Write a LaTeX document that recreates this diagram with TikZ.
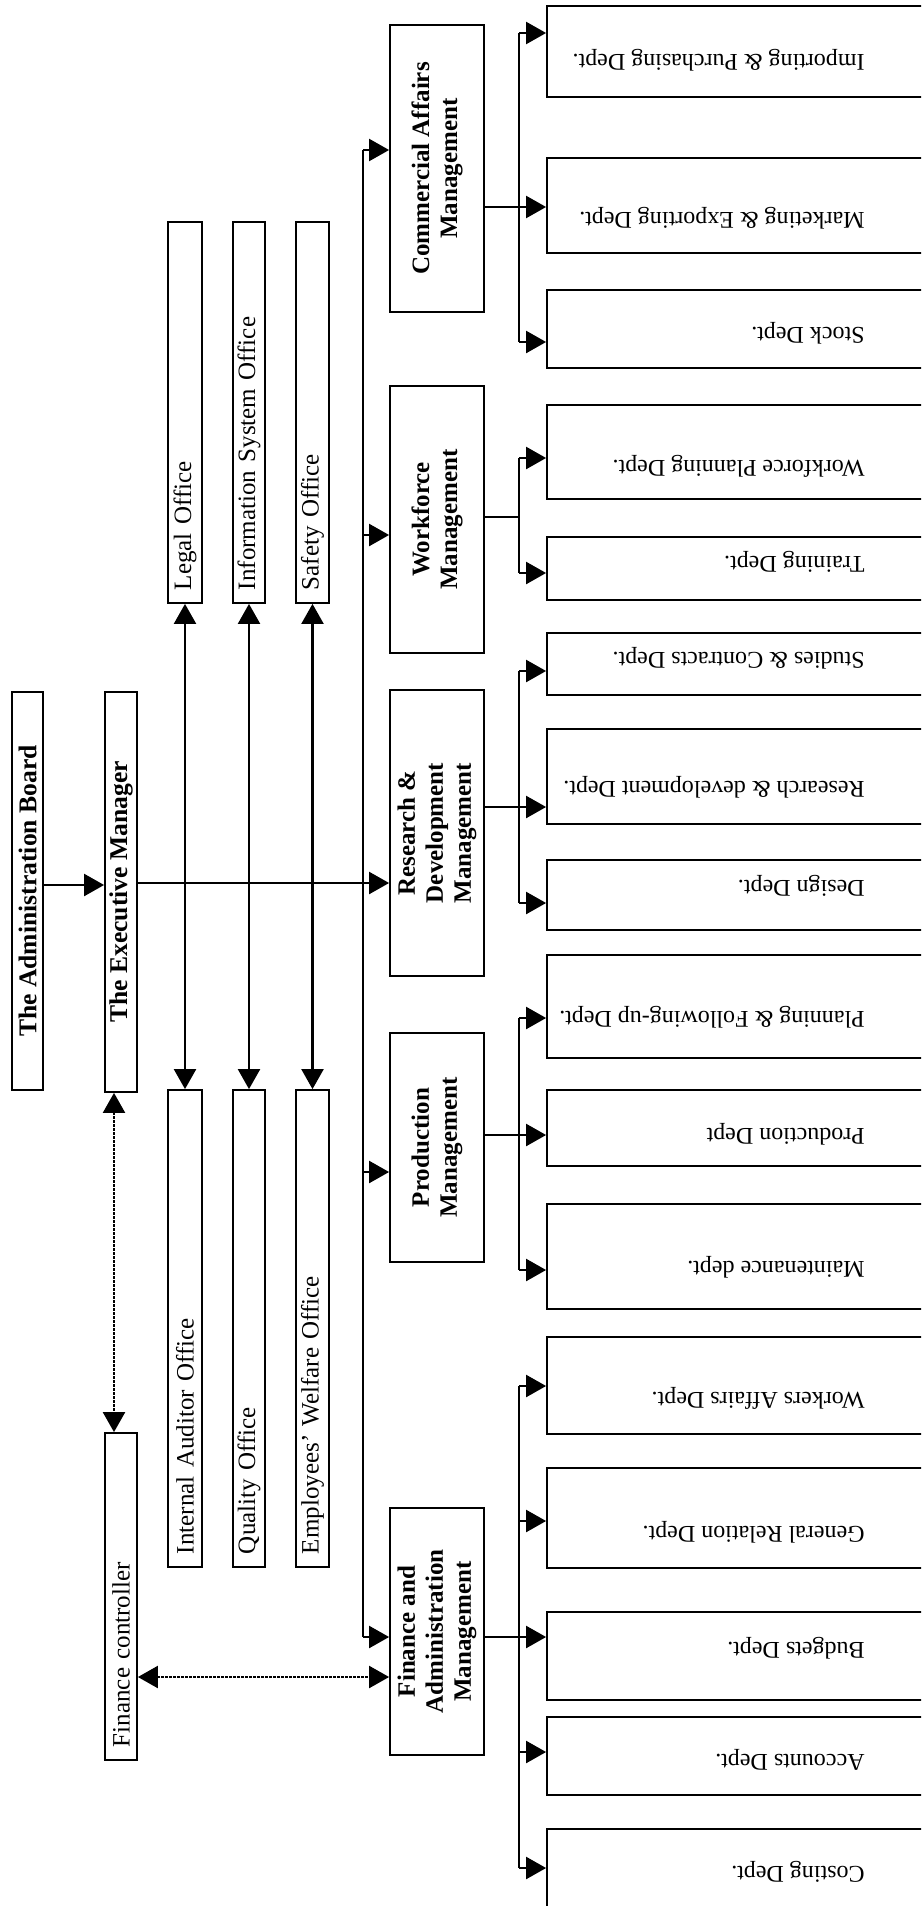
\documentclass[tikz,border=0pt]{standalone}
\usepackage{fontspec}
\setmainfont{Liberation Serif}
\usetikzlibrary{arrows.meta}

\begin{document}
\begin{tikzpicture}[x=0.5pt, y=-0.5pt,
    box/.style={draw, line width=0.9pt, inner sep=0pt, font=\fontsize{12.5}{14}\selectfont},
    topbox/.style={box, rotate=90, font=\fontsize{12.8}{14}\selectfont\bfseries},
    office/.style={box, rotate=90, inner xsep=6.5pt, align=left},
    mgmt/.style={box, rotate=90, minimum height=47pt, align=center, font=\fontsize{12.5}{14}\selectfont\bfseries},
    dept/.style={box, minimum width=206.5pt},
    depttxt/.style={rotate=180, anchor=west, inner sep=0pt, font=\fontsize{12}{14}\selectfont},
    arr/.style={line width=1.1pt, -{Triangle[length=10pt, width=11pt]}},
    barr/.style={line width=1.1pt, {Triangle[length=10pt, width=11pt]}-{Triangle[length=10pt, width=11pt]}},
    darr/.style={line width=1.1pt, dash pattern=on 1.1pt off 0.9pt, {Triangle[length=10pt, width=11pt]}-{Triangle[length=10pt, width=11pt]}}]
    \useasboundingbox (0,0) rectangle (921,1906);
    \clip (0,0) rectangle (921,1906);

    % 上位ノード
    \node[topbox, minimum width=199pt, minimum height=15.5pt] (adb) at (27.5,891) {The Administration Board};
    \node[topbox, minimum width=200pt, minimum height=16pt] (exm) at (121,892) {The Executive Manager};
    \node[office, text width=150.5pt, minimum height=16pt] (fct) at (121,1596.5) {Finance controller};

    % オフィス
    \node[office, text width=177.5pt, minimum height=17pt] (leg) at (185,412.5) {Legal Office};
    \node[office, text width=177.5pt, minimum height=16pt] (inf) at (249,412.5) {Information System Office};
    \node[office, text width=177.5pt, minimum height=16.5pt] (saf) at (312.5,412.5) {Safety Office};
    \node[office, text width=225.5pt, minimum height=17pt] (iao) at (185,1328.5) {Internal Auditor Office};
    \node[office, text width=225.5pt, minimum height=16pt] (qua) at (249,1328.5) {Quality Office};
    \node[office, text width=225.5pt, minimum height=16.5pt] (ewo) at (312.5,1328.5) {Employees' Welfare Office};

    % 管理部門
    \node[mgmt, minimum width=143.5pt] (cam) at (437,168.5) {Commercial Affairs\\Management};
    \node[mgmt, minimum width=133.5pt] (wfm) at (437,519.5) {Workforce\\Management};
    \node[mgmt, minimum width=143pt] (rdm) at (437,833) {Research \&\\Development\\Management};
    \node[mgmt, minimum width=114.5pt] (prm) at (437,1147.5) {Production\\Management};
    \node[mgmt, minimum width=123.5pt] (fam) at (437,1631.5) {Finance and\\Administration\\Management};

    % 課
    \node[dept, minimum height=45.5pt] (imp) at (753.5,51.5) {};
    \node[dept, minimum height=47.5pt] (mkt) at (753.5,205.5) {};
    \node[dept, minimum height=39pt] (stk) at (753.5,329) {};
    \node[dept, minimum height=47pt] (wfp) at (753.5,452) {};
    \node[dept, minimum height=31.5pt] (trn) at (753.5,568.5) {};
    \node[dept, minimum height=31pt] (stu) at (753.5,664) {};
    \node[dept, minimum height=47.5pt] (rnd) at (753.5,776.5) {};
    \node[dept, minimum height=35pt] (dsg) at (753.5,895) {};
    \node[dept, minimum height=51.5pt] (pln) at (753.5,1006.5) {};
    \node[dept, minimum height=38pt] (pdd) at (753.5,1128) {};
    \node[dept, minimum height=52.5pt] (mnt) at (753.5,1256.5) {};
    \node[dept, minimum height=48.5pt] (wka) at (753.5,1385.5) {};
    \node[dept, minimum height=50pt] (grl) at (753.5,1518) {};
    \node[dept, minimum height=44pt] (bud) at (753.5,1656) {};
    \node[dept, minimum height=39pt] (acc) at (753.5,1756) {};
    \node[dept, minimum height=65.5pt] (cst) at (753.5,1894.5) {};

    % 課の名前
    \node[depttxt] (impT) at (865,60) {Importing \& Purchasing Dept.};
    \node[depttxt] (mktT) at (865,218) {Marketing \& Exporting Dept.};
    \node[depttxt] (stkT) at (865,333) {Stock Dept.};
    \node[depttxt] (wfpT) at (865,466) {Workforce Planning Dept.};
    \node[depttxt] (trnT) at (865,562) {Training Dept.};
    \node[depttxt] (stuT) at (865,658) {Studies \& Contracts Dept.};
    \node[depttxt] (rndT) at (865,787) {Research \& development Dept.};
    \node[depttxt] (dsgT) at (865,886) {Design Dept.};
    \node[depttxt] (plnT) at (865,1017) {Planning \& Following-up Dept.};
    \node[depttxt] (pddT) at (865,1134) {Production Dept};
    \node[depttxt] (mntT) at (865,1267) {Maintenance dept.};
    \node[depttxt] (wkaT) at (865,1398) {Workers Affairs Dept.};
    \node[depttxt] (grlT) at (865,1532) {General Relation Dept.};
    \node[depttxt] (budT) at (865,1648) {Budgets Dept.};
    \node[depttxt] (accT) at (865,1760) {Accounts Dept.};
    \node[depttxt] (cstT) at (865,1872) {Costing Dept.};

    % エッジ
    \draw[arr] (adb.south |- 0,885) -- (exm.north |- 0,885);
    \draw[arr] (exm.south |- 0,883) -- (rdm.north |- 0,883);
    \draw[barr] (leg.west) -- (iao.east);
    \draw[barr] (inf.west) -- (qua.east);
    \draw[barr] (saf.west) -- (ewo.east);
    \draw[darr] ([xshift=-3.5pt]exm.west) -- ([xshift=-3.5pt]fct.east);
    \draw[darr] (fct.south |- 0,1677) -- (fam.north |- 0,1677);

    % 縦の幹線
    \coordinate (b1) at (363,150);
    \coordinate (b2) at (363,535);
    \coordinate (b4) at (363,1172);
    \coordinate (b5) at (363,1637);
    \draw[line width=1.1pt] (b1) -- (b5);
    \draw[arr] (b1) -- (cam.north |- b1);
    \draw[arr] (b2) -- (wfm.north |- b2);
    \draw[arr] (b4) -- (prm.north |- b4);
    \draw[arr] (b5) -- (fam.north |- b5);

    % 分岐
    \coordinate (c1) at (519,33);
    \coordinate (c2) at (519,342);
    \draw[line width=1.1pt] (c1) -- (c2);
    \draw[arr] (cam.south |- 0,207) -- (mkt.west |- 0,207);
    \draw[arr] (c1) -- (imp.west |- c1);
    \draw[arr] (c2) -- (stk.west |- c2);

    \coordinate (w1) at (519,458);
    \coordinate (w2) at (519,573);
    \draw[line width=1.1pt] (wfm.south |- 0,517) -- (w1 |- 0,517);
    \draw[line width=1.1pt] (w1) -- (w2);
    \draw[arr] (w1) -- (wfp.west |- w1);
    \draw[arr] (w2) -- (trn.west |- w2);

    \coordinate (r1) at (519,671);
    \coordinate (r2) at (519,903);
    \draw[line width=1.1pt] (r1) -- (r2);
    \draw[arr] (rdm.south |- 0,807) -- (rnd.west |- 0,807);
    \draw[arr] (r1) -- (stu.west |- r1);
    \draw[arr] (r2) -- (dsg.west |- r2);

    \coordinate (p1) at (519,1018);
    \coordinate (p2) at (519,1270);
    \draw[line width=1.1pt] (p1) -- (p2);
    \draw[arr] (prm.south |- 0,1135) -- (pdd.west |- 0,1135);
    \draw[arr] (p1) -- (pln.west |- p1);
    \draw[arr] (p2) -- (mnt.west |- p2);

    \coordinate (f1) at (519,1386);
    \coordinate (f2) at (519,1521);
    \coordinate (f4) at (519,1752);
    \coordinate (f5) at (519,1868);
    \draw[line width=1.1pt] (f1) -- (f5);
    \draw[arr] (fam.south |- 0,1637) -- (bud.west |- 0,1637);
    \draw[arr] (f1) -- (wka.west |- f1);
    \draw[arr] (f2) -- (grl.west |- f2);
    \draw[arr] (f4) -- (acc.west |- f4);
    \draw[arr] (f5) -- (cst.west |- f5);
\end{tikzpicture}
\end{document}
